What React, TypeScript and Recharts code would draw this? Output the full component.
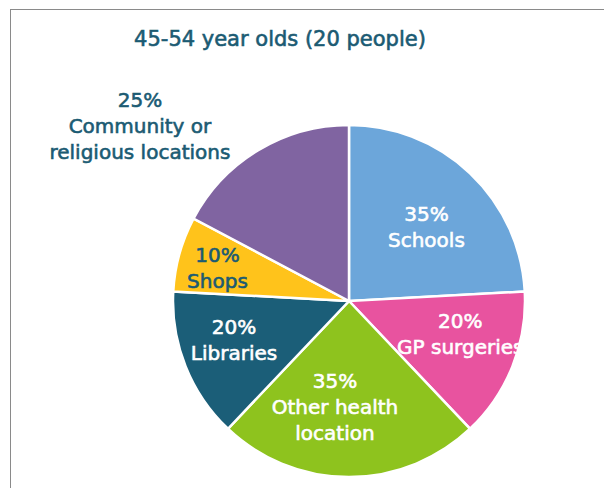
import { PieChart, Pie, Cell } from "recharts";

const categories = [
  "Schools",
  "GP surgeries",
  "Other health location",
  "Libraries",
  "Shops",
  "Community or religious locations",
];
const percents = [35, 20, 35, 20, 10, 25];
const labelLines = [
  ["Schools"],
  ["GP surgeries"],
  ["Other health", "location"],
  ["Libraries"],
  ["Shops"],
  ["Community or", "religious locations"],
];
const colors = ["#6CA6DA", "#E8539F", "#8EC31E", "#1B5E78", "#FFC31B", "#8064A1"];
const labelColors = ["#fff", "#fff", "#fff", "#fff", "#1B5B73", "#1B5B73"];

const data = categories.map((name, i) => ({ name, value: percents[i] }));

// Excel-style "best fit" label spots: radius factor and angle nudge per slice
const labelRadius = [0.61, 0.66, 0.61, 0.69, 0.77, 1.55];
const labelNudge = [-2.7, 5.1, -7.5, -3, 1.6, 19];

const RAD = Math.PI / 180;
const TEXT = "#1B5B73";
const FONT = "'DejaVu Sans', sans-serif";

function SliceLabel(props: any) {
  const { cx, cy, midAngle, outerRadius, index } = props;
  const a = (midAngle + labelNudge[index]) * RAD;
  const r = outerRadius * labelRadius[index];
  const x = cx + r * Math.cos(a);
  const y = cy - r * Math.sin(a);
  const lines = [`${percents[index]}%`, ...labelLines[index]];
  const lh = 26;
  const top = y - ((lines.length - 1) * lh) / 2;
  const inside = labelRadius[index] < 1;
  const clipId = `clip-${index}`;
  return (
    <g>
      {inside && (
        <defs>
          <clipPath id={clipId}>
            <circle cx={cx} cy={cy} r={outerRadius} />
          </clipPath>
        </defs>
      )}
      <text
        x={x}
        y={top}
        textAnchor="middle"
        dominantBaseline="central"
        fill={labelColors[index]}
        stroke={labelColors[index]}
        strokeWidth={0.6}
        fontSize={20}
        fontFamily={FONT}
        clipPath={inside ? `url(#${clipId})` : undefined}
      >
        {lines.map((l, i) => (
          <tspan key={i} x={x} y={top + i * lh}>
            {l}
          </tspan>
        ))}
      </text>
    </g>
  );
}

export default function App() {
  return (
    <div
      style={{
        position: "absolute",
        left: 0,
        top: 0,
        width: 604,
        height: 488,
        overflow: "hidden",
        background: "#fff",
      }}
    >
      <div
        style={{
          position: "absolute",
          left: 10,
          top: 9,
          width: 640,
          height: 520,
          border: "1.5px solid #8A8A8A",
        }}
      />
      <div
        style={{
          position: "absolute",
          left: 0,
          top: 27,
          width: 560,
          textAlign: "center",
          fontFamily: FONT,
          fontSize: 21,
          color: TEXT,
          WebkitTextStroke: `0.6px ${TEXT}`,
        }}
      >
        45-54 year olds (20 people)
      </div>
      <div style={{ position: "absolute", left: 0, top: 0 }}>
        <PieChart width={604} height={488} margin={{ top: 0, right: 0, bottom: 0, left: 0 }}>
          <Pie
            data={data}
            dataKey="value"
            nameKey="name"
            cx={349}
            cy={301}
            outerRadius={176}
            startAngle={90}
            endAngle={-270}
            stroke="#fff"
            strokeWidth={2.5}
            labelLine={false}
            label={SliceLabel}
            isAnimationActive={false}
          >
            {data.map((d, i) => (
              <Cell key={d.name} fill={colors[i]} />
            ))}
          </Pie>
        </PieChart>
      </div>
    </div>
  );
}
